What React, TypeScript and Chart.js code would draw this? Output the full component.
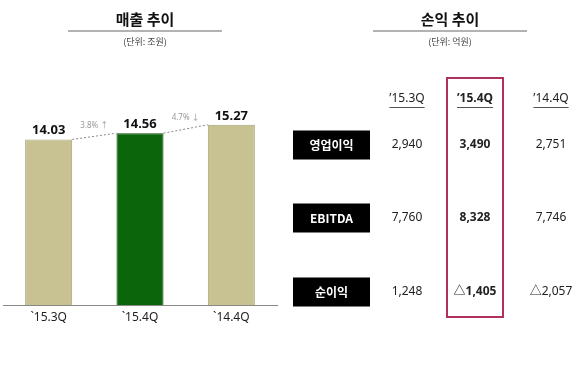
import React, { useEffect, useRef } from "react";
import { Chart, registerables } from "chart.js";

Chart.register(...registerables);

const categories = ["`15.3Q", "`15.4Q", "`14.4Q"];
const sales = [14.03, 14.56, 15.27];
const salesLabels = ["14.03", "14.56", "15.27"];
const changeLabels = ["3.8% ↑", "4.7% ↓"];
const tableCols = ["’15.3Q", "’15.4Q", "’14.4Q"];
const rowLabels = ["영업이익", "EBITDA", "순이익"];
const opProfit = ["2,940", "3,490", "2,751"];
const ebitda = ["7,760", "8,328", "7,746"];
const netProfit = ["1,248", "△1,405", "△2,057"];
const tableRows = [opProfit, ebitda, netProfit];

const FONT = "'Noto Sans', 'Noto Sans CJK KR', sans-serif";
const KFONT = "'Noto Sans CJK KR', 'Noto Sans', sans-serif";

const overlay = {
  id: "overlay",
  afterDraw(chart: any) {
    const ctx = chart.ctx as CanvasRenderingContext2D;
    ctx.save();
    const title = (text: string, cx: number, sub: string, x1: number, x2: number) => {
      ctx.fillStyle = "#111";
      ctx.font = `bold 15px ${KFONT}`;
      ctx.textAlign = "center";
      ctx.textBaseline = "middle";
      ctx.fillText(text, cx, 19);
      ctx.strokeStyle = "#999";
      ctx.lineWidth = 1.5;
      ctx.beginPath();
      ctx.moveTo(x1, 31);
      ctx.lineTo(x2, 31);
      ctx.stroke();
      ctx.fillStyle = "#444";
      ctx.font = `9px ${KFONT}`;
      ctx.fillText(sub, cx, 42);
    };
    title("매출 추이", 145, "(단위: 조원)", 68, 222);
    title("손익 추이", 450, "(단위: 억원)", 373, 527);

    const meta = chart.getDatasetMeta(0);
    const bars = meta.data as any[];
    ctx.fillStyle = "#111";
    ctx.font = `bold 13px ${FONT}`;
    ctx.textAlign = "center";
    ctx.textBaseline = "middle";
    bars.forEach((b, i) => {
      ctx.fillText(salesLabels[i], b.x, b.y - 9);
    });
    ctx.strokeStyle = "#888";
    ctx.lineWidth = 1;
    ctx.setLineDash([2, 2]);
    for (let i = 0; i < bars.length - 1; i++) {
      const a = bars[i];
      const c = bars[i + 1];
      ctx.beginPath();
      ctx.moveTo(a.x + a.width / 2, a.y);
      ctx.lineTo(c.x - c.width / 2, c.y);
      ctx.stroke();
    }
    ctx.setLineDash([]);
    ctx.fillStyle = "#999";
    ctx.font = `8px ${FONT}`;
    for (let i = 0; i < bars.length - 1; i++) {
      const a = bars[i];
      const c = bars[i + 1];
      const mx = (a.x + a.width / 2 + c.x - c.width / 2) / 2;
      const my = (a.y + c.y) / 2 - 11;
      ctx.fillText(changeLabels[i], mx, my);
    }

    const colX = [407, 475, 551];
    const rowY = [145, 218, 292];
    tableCols.forEach((t, i) => {
      ctx.font = i === 1 ? `bold 12px ${FONT}` : `12px ${FONT}`;
      ctx.fillStyle = "#222";
      ctx.fillText(t, colX[i], 99);
      const w = ctx.measureText(t).width;
      ctx.strokeStyle = "#555";
      ctx.lineWidth = 1;
      ctx.beginPath();
      ctx.moveTo(colX[i] - w / 2, 107.5);
      ctx.lineTo(colX[i] + w / 2, 107.5);
      ctx.stroke();
    });
    rowLabels.forEach((lab, r) => {
      ctx.fillStyle = "#000";
      ctx.fillRect(293, rowY[r] - 14.5, 77, 29);
      ctx.fillStyle = "#fff";
      ctx.font = `bold 12px ${KFONT}`;
      ctx.fillText(lab, 331.5, rowY[r]);
      tableRows[r].forEach((v, c) => {
        ctx.fillStyle = "#222";
        ctx.font = c === 1 ? `bold 12px ${FONT}` : `12px ${FONT}`;
        ctx.fillText(v, colX[c], rowY[r]);
      });
    });
    ctx.strokeStyle = "#b0305f";
    ctx.lineWidth = 2;
    ctx.strokeRect(447, 78, 56, 239);
    ctx.restore();
  },
};

export default function App() {
  const ref = useRef<HTMLCanvasElement>(null);
  useEffect(() => {
    const chart = new Chart(ref.current as HTMLCanvasElement, {
      type: "bar",
      data: {
        labels: categories,
        datasets: [
          {
            data: sales,
            backgroundColor: ["#c8c292", "#0b650b", "#c8c292"],
            borderColor: ["#a8a278", "#064a06", "#a8a278"],
            borderWidth: 1,
            categoryPercentage: 1,
            barPercentage: 0.515,
          },
        ],
      },
      options: {
        animation: false,
        responsive: false,
        maintainAspectRatio: false,
        events: [],
        layout: { padding: { left: 3, right: 303, top: 69, bottom: 0 } },
        plugins: { legend: { display: false }, tooltip: { enabled: false } },
        scales: {
          x: {
            grid: { display: false, drawTicks: false },
            border: { display: true, color: "#888", width: 1 },
            ticks: { color: "#222", font: { family: FONT, size: 12 }, padding: 5 },
            afterFit: (s: any) => {
              s.height = 69;
            },
          },
          y: { display: false, min: 0, max: 20 },
        },
      },
      plugins: [overlay],
    });
    return () => chart.destroy();
  }, []);
  return (
    <div style={{ position: "absolute", left: 0, top: 0, width: 580, height: 374, background: "#fff" }}>
      <canvas ref={ref} width={580} height={374} />
    </div>
  );
}
